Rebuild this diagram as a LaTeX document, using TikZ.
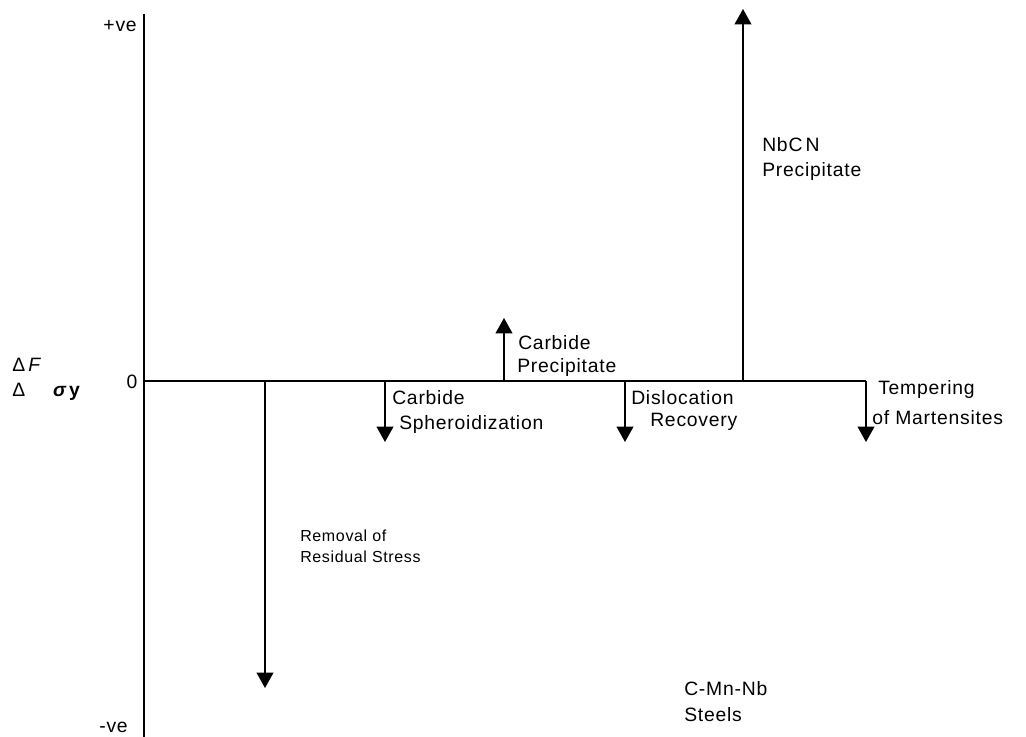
\documentclass[tikz,border=0pt]{standalone}
\usepackage{fontspec}
\setmainfont{Liberation Sans}[LetterSpace=4]
\usetikzlibrary{arrows.meta}
\begin{document}
\begin{tikzpicture}[x=0.75pt,y=-0.75pt,
  lbl/.style={inner sep=0pt,anchor=base west,font=\fontsize{14.5pt}{17pt}\selectfont},
  lbls/.style={inner sep=0pt,anchor=base west,font=\fontsize{12pt}{15pt}\selectfont},
  axis/.style={line width=1.5pt},
  effect/.style={line width=1.3pt,-{Triangle[width=12.5pt,length=11.5pt]}}]
\useasboundingbox (0,0) rectangle (1026,737);
% axis coordinates
\coordinate (ytop) at (144,14);
\coordinate (ybot) at (144,737);
\coordinate (orig) at (144,381);
\coordinate (xend) at (866,381);
\draw[axis] (ytop) -- (ybot);
\draw[axis] (orig) -- (xend);
% arrow roots and tips
\coordinate (r1) at (265,381); \coordinate (t1) at (265,688);
\coordinate (r2) at (385,381); \coordinate (t2) at (385,442);
\coordinate (r3) at (504,381); \coordinate (t3) at (504,318);
\coordinate (r4) at (625,381); \coordinate (t4) at (625,442);
\coordinate (r5) at (743,381); \coordinate (t5) at (743,9);
\coordinate (r6) at (866,381); \coordinate (t6) at (866,442);
\draw[effect] (r1) -- (t1);
\draw[effect] (r2) -- (t2);
\draw[effect] (r3) -- (t3);
\draw[effect] (r4) -- (t4);
\draw[effect] (r5) -- (t5);
\draw[effect] (r6) -- (t6);
% axis labels
\node[lbl,anchor=base east] (pve) at (137,32) {+ve};
\node[lbl,anchor=base east] (mve) at (128,733) {-ve};
\node[lbl,anchor=base] (zero) at (132,389) {0};
\node[lbl] (dF) at (12,372) {Δ\,\textit{F}};
\node[lbl] (dsy) at (12,397) {Δ\hspace{21pt}{\bfseries\itshape σ}\,\textbf{y}};
% effect labels
\node[lbls] (rem1) at (300,542) {Removal of};
\node[lbls] (rem2) at (300,563) {Residual Stress};
\node[lbl] (sph1) at (392,405) {Carbide};
\node[lbl] (sph2) at (399,430) {Spheroidization};
\node[lbl] (cp1) at (518,350) {Carbide};
\node[lbl] (cp2) at (517,373) {Precipitate};
\node[lbl] (dr1) at (631,405) {Dislocation};
\node[lbl] (dr2) at (650,427) {Recovery};
\node[lbl] (nb1) at (762,152) {NbC\,N};
\node[lbl] (nb2) at (762,177) {Precipitate};
\node[lbl] (tm1) at (878,395) {Tempering};
\node[lbl] (tm2) at (872,425) {of Martensites};
\node[lbl] (st1) at (684,696) {C-Mn-Nb};
\node[lbl] (st2) at (684,722) {Steels};
\end{tikzpicture}
\end{document}
